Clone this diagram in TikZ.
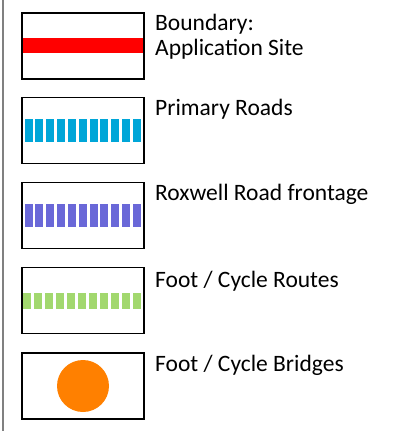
\documentclass[tikz,border=0pt]{standalone}
\usepackage{fontspec}
\setmainfont{Carlito}
\definecolor{siteRed}{HTML}{FF0000}
\definecolor{roadBlue}{HTML}{00A6D8}
\definecolor{roxPurple}{HTML}{6A68D8}
\definecolor{footGreen}{HTML}{A2D86E}
\definecolor{bridgeOrange}{HTML}{FF8000}
\tikzset{
	legbox/.style={draw, line width=1.5pt, minimum width=122pt, minimum height=66pt, inner sep=0pt},
	legtext/.style={anchor=base west, inner sep=0pt, font=\fontsize{23.5}{25}\selectfont, align=left}
}
\begin{document}
\begin{tikzpicture}[x=1pt,y=-1pt]
		\useasboundingbox (0,0) rectangle (398,431);
		\draw[gray, line width=1.5pt] (3,0)--(3,431);
		% boundary
		\fill[siteRed] (22,38) rectangle (144,53);
		\node[legbox] at (83,46)(b0){};
		\node[legtext] at (155,55)(t0){Boundary:\\Application Site};
		% primary roads
		\foreach \i in {0,...,10}
			\fill[roadBlue] (24.5+\i*10.85,119) rectangle ++(8,23);
		\node[legbox] at (83,130.5)(b1){};
		\node[legtext] at (155,115)(t1){Primary Roads};
		% roxwell road
		\foreach \i in {0,...,10}
			\fill[roxPurple] (24.5+\i*10.85,204) rectangle ++(8,23);
		\node[legbox] at (83,215.5)(b2){};
		\node[legtext] at (155,200)(t2){Roxwell Road frontage};
		% foot / cycle routes
		\foreach \i in {0,...,10}
			\fill[footGreen] (23+\i*11,293) rectangle ++(8,16);
		\node[legbox] at (83,300.5)(b3){};
		\node[legtext] at (155,287)(t3){Foot / Cycle Routes};
		% foot / cycle bridges
		\node[legbox] at (83,386)(b4){};
		\fill[bridgeOrange] (b4.center) circle (26);
		\node[legtext] at (155,371)(t4){Foot / Cycle Bridges};
	\end{tikzpicture}
\end{document}
